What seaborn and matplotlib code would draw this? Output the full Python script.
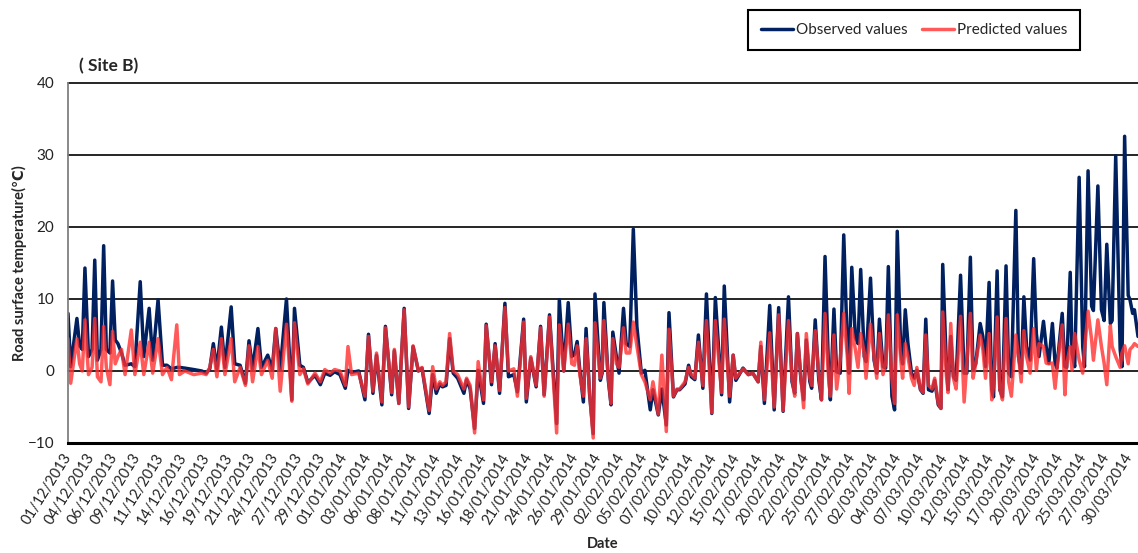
import numpy as np
import pandas as pd
import matplotlib
matplotlib.use("Agg")
import matplotlib.pyplot as plt
import seaborn as sns

# Time since 01/12/2013 00:00, in days
t_days = [
    0.0, 0.3, 1.0, 1.3, 1.6, 1.9, 2.3, 2.7, 3.0, 3.3, 3.7, 4.0, 4.3, 4.7, 5.0, 5.3,
    5.6, 6.0, 6.4, 7.1, 7.5, 8.1, 8.5, 9.1, 9.5, 10.1, 10.6, 11.1, 11.6, 12.2, 12.5, 13.1,
    14.1, 15.0, 15.5, 15.9, 16.3, 16.7, 17.2, 17.6, 18.3, 18.7, 19.3, 19.9, 20.3, 20.7,
    21.3, 21.7, 22.4, 22.9, 23.3, 23.8, 24.5, 25.1, 25.4, 26.0, 26.4, 26.9,
    27.7, 28.3, 28.8, 29.4, 29.9, 30.5, 31.1, 31.4, 31.8, 32.6, 33.3, 33.7, 34.2, 34.6,
    35.2, 35.6, 36.3, 36.6, 37.1, 37.7, 38.2, 38.7, 39.3, 39.7,
    40.5, 40.9, 41.3, 41.7, 42.0, 42.4, 42.8, 43.2, 43.7, 44.4, 44.7, 45.1, 45.6, 46.0,
    46.6, 46.9, 47.5, 47.9, 48.4, 49.0, 49.4, 50.0, 50.4, 51.1, 51.4, 51.9, 52.5, 53.0, 53.4,
    54.0, 54.8, 55.1, 55.6, 56.1, 56.5, 56.8, 57.1, 57.4, 57.8, 58.1, 58.5, 58.9, 59.1,
    59.7, 59.9, 60.1, 60.6, 60.9, 61.1, 61.5, 61.8, 62.3, 62.6, 63.0, 63.4, 63.8, 64.3,
    64.7, 65.3, 65.6, 66.2, 66.6, 67.1,
    67.4, 67.9, 68.3, 68.6, 69.2, 69.6, 69.9, 70.3, 70.7, 71.2, 71.6, 72.2, 72.6, 73.3,
    73.6, 74.2, 74.6, 74.9, 75.7, 76.3, 76.8, 77.4, 77.7, 78.1, 78.7, 79.2, 79.7, 80.2, 80.8,
    81.2, 81.5, 81.8, 82.2, 82.5, 82.8, 83.2, 83.4, 83.8, 84.2, 84.5, 84.9, 85.3, 85.5,
    85.9, 86.2, 86.6, 87.0, 87.4, 87.6, 87.9, 88.3, 88.6, 88.9, 89.3, 89.5, 90.0, 90.4,
    90.7, 91.0, 91.4, 91.7, 92.0, 92.4, 92.7, 93.0, 93.4, 93.6, 93.9,
    94.2, 94.6, 94.9, 95.2, 95.6, 95.9, 96.2, 96.5, 96.9, 97.2, 97.6, 97.9, 98.1, 98.5,
    98.7, 99.0, 99.3, 99.6, 100.1, 100.5, 100.8, 101.2, 101.5, 101.8, 102.3, 102.6, 102.9,
    103.3, 103.6, 103.8, 104.2, 104.5, 104.8, 105.2, 105.5, 105.8, 106.3, 106.6, 106.9,
    107.2, 107.5, 107.9,
    108.3, 108.6, 108.9, 109.4, 109.7, 110.0, 110.4, 110.7, 110.9, 111.5, 111.8, 112.0,
    112.4, 112.6, 112.9, 113.4, 113.8, 114.0, 114.4, 114.8, 115.0, 115.5, 115.9, 116.2,
    116.5, 116.9, 117.1, 117.5, 118.0, 118.2, 118.5, 118.9, 119.1, 119.4, 119.6, 120.0,
]

# Measured road surface temperature (deg C)
observed = [
    8.0, 0.6, 7.3, 3.5, 3.0, 14.3, 2.0, 3.0, 15.4, 1.5, 3.0, 17.4, 3.0, 2.5, 12.5, 4.3,
    3.8, 2.5, 0.8, 1.0, 0.6, 12.4, 2.0, 8.7, 1.5, 9.9, 0.8, 0.8, 0.3, 0.5, 0.5, 0.4,
    0.2, 0.0, -0.3, 0.3, 3.8, 0.3, 6.1, 0.5, 8.9, 1.0, 0.8, -1.7, 4.2, 0.3,
    5.9, 0.5, 2.2, 0.2, 5.9, 0.2, 10.0, -4.0, 8.7, 0.8, 0.5, -1.6,
    -0.6, -1.9, -0.3, -0.6, -0.1, -0.5, -2.4, 0.1, -0.2, 0.0, -4.0, 5.1, -3.1, 2.2,
    -4.7, 6.2, -3.3, 2.8, -4.5, 8.7, -5.2, 3.4, 0.0, 0.4,
    -5.9, -0.5, -3.1, -1.8, -2.2, -2.0, 4.5, -0.3, -1.0, -3.1, -1.2, -2.5, -8.0, 0.1,
    -4.5, 6.5, -1.9, 3.8, -3.1, 9.4, -0.8, -0.5, -2.9, 7.2, -4.3, 1.8, -2.2, 6.2, -3.3,
    7.8, -7.3, 9.9, 0.0, 9.5, 2.0, 2.3, 4.1, 0.1, -4.3, 5.9, -3.3, -8.7, 10.7,
    -1.3, -0.3, 9.5, -1.3, -4.7, 5.4, 2.0, -0.3, 8.7, 3.8, 3.4, 19.7, 6.2, -0.3,
    0.1, -5.4, -2.6, -6.1, -2.5, -7.5,
    8.1, -3.6, -2.6, -2.6, -1.8, 0.8, -0.8, -1.2, 5.0, -2.4, 10.7, -5.9, 10.2, -3.3,
    11.8, -4.3, 2.2, -1.3, 0.4, -0.5, -0.3, -1.5, 3.4, -4.5, 9.1, -5.4, 8.8, -5.6, 10.3,
    -1.5, -3.1, 5.2, -1.2, -4.0, 4.3, -1.5, -2.4, 7.1, -1.2, -4.0, 15.9, 0.1, -4.0,
    8.6, -0.1, -0.3, 18.9, 3.5, -0.3, 14.4, 4.7, 3.8, 14.1, 2.0, 1.3, 12.9, 1.5,
    -0.3, 7.2, 0.6, 0.4, 14.5, -3.5, -5.4, 19.4, 2.5, 1.0, 8.5,
    3.8, -0.3, -1.0, 0.1, -2.6, -3.1, 7.2, -2.6, -2.8, -1.3, -4.7, -5.2, 14.8, 1.1,
    -2.6, 4.8, -0.8, -1.3, 13.3, -0.3, -0.3, 15.8, 0.1, 1.0, 6.6, 4.8, 0.6,
    12.3, -2.6, -3.6, 13.9, -2.6, -3.6, 14.6, -0.3, -0.8, 22.3, 2.0, -0.3,
    10.3, 3.4, 1.5,
    15.6, 5.2, 2.0, 6.9, 3.4, 1.1, 6.6, 1.1, 0.4, 8.0, 0.6, 0.5,
    13.7, 2.5, 0.6, 26.9, 3.4, 0.6, 27.8, 9.0, 8.4, 25.7, 8.5, 7.0,
    17.6, 6.6, 7.0, 29.9, 3.0, 0.6, 32.6, 10.5, 9.9, 8.0, 8.5, 4.8,
]

# Model output for the same instants (deg C)
predicted = [
    4.5, -1.7, 4.5, 1.0, 0.0, 7.1, -0.5, 0.5, 7.3, -0.8, -1.5, 6.2, 0.5, -1.9, 5.5, 1.0,
    2.0, 3.0, -0.5, 5.7, -0.5, 4.0, -0.5, 4.0, -0.3, 4.5, -0.5, 0.5, -1.2, 6.4, -0.5, 0.0,
    -0.5, -0.3, -0.5, 0.5, 3.0, -0.8, 4.5, -0.5, 4.5, -1.5, 0.5, -2.0, 3.5, -1.5,
    3.4, -0.5, 1.5, -1.0, 5.9, -2.8, 6.5, -4.2, 6.7, -0.5, 0.3, -1.8,
    -0.3, -1.5, 0.2, -0.3, 0.2, 0.0, -2.0, 3.4, -0.5, -0.3, -3.5, 4.8, -2.8, 2.5,
    -4.3, 6.0, -3.0, 3.0, -4.5, 8.5, -5.0, 3.5, 0.0, 0.5,
    -5.5, 0.6, -2.5, -1.5, -2.0, -1.5, 5.2, 0.0, -0.5, -2.5, -1.0, -2.0, -8.6, 1.3,
    -4.0, 6.3, -1.5, 3.5, -2.7, 8.8, 0.0, 0.3, -3.5, 6.8, -3.8, 2.0, -2.0, 6.0, -3.5,
    7.5, -8.6, 6.4, 0.0, 6.5, 1.0, 0.8, 3.5, -0.5, -3.5, 4.5, -3.0, -9.3, 6.7,
    -1.0, 0.0, 7.0, -1.0, -4.5, 4.5, 1.0, 0.5, 6.0, 2.5, 2.5, 6.8, 3.5, -0.5,
    -1.5, -4.0, -1.5, -6.0, 2.2, -8.4,
    5.8, -3.5, -2.5, -2.5, -1.5, 0.5, -0.5, -1.0, 4.0, -2.0, 7.0, -5.8, 7.0, -3.0,
    7.2, -3.5, 2.2, -1.0, 0.3, -0.5, -0.3, -1.5, 4.0, -4.0, 5.3, -5.0, 7.8, -5.5, 7.0,
    -1.0, -3.5, 5.2, -1.0, -5.1, 5.2, -1.0, -2.0, 5.6, -0.5, -4.0, 8.0, -1.0, -3.5,
    5.0, -2.5, 1.5, 8.0, 2.0, -3.1, 5.9, 3.0, 0.5, 5.2, 2.5, -1.0, 6.5, 2.0,
    -1.0, 5.2, -0.5, 1.0, 7.8, -1.0, -4.5, 7.8, 1.5, -1.0, 3.8,
    2.0, -1.0, -2.0, 0.5, -2.5, -3.0, 5.0, -2.0, -2.5, -1.0, -4.5, -5.2, 8.2, -0.5,
    -3.0, 6.6, -1.0, -2.5, 7.6, -4.3, 1.0, 8.0, -1.0, 1.0, 5.0, 3.0, -1.0,
    5.2, -4.0, -2.0, 7.5, -2.5, -4.0, 7.3, -1.5, -3.5, 5.0, 2.0, -1.5,
    5.6, 2.0, -0.3,
    5.9, 0.1, 3.8, 3.4, 1.1, 1.0, 1.1, -2.4, 0.1, 6.4, -3.3, 1.0,
    3.4, 0.1, 5.2, 1.5, -0.3, 2.9, 8.3, 4.3, 1.5, 7.1, 3.4, 1.1,
    -1.9, 6.3, 3.4, 2.0, 0.5, 2.5, 3.5, 1.0, 3.0, 3.4, 3.8, 3.4,
]

tick_labels = [
    "01/12/2013", "04/12/2013", "06/12/2013", "09/12/2013", "11/12/2013", "14/12/2013",
    "16/12/2013", "19/12/2013", "21/12/2013", "24/12/2013", "27/12/2013", "29/12/2013",
    "01/01/2014", "03/01/2014", "06/01/2014", "08/01/2014", "11/01/2014", "13/01/2014",
    "16/01/2014", "18/01/2014", "21/01/2014", "24/01/2014", "26/01/2014", "29/01/2014",
    "02/02/2014", "05/02/2014", "07/02/2014", "10/02/2014", "12/02/2014", "15/02/2014",
    "17/02/2014", "20/02/2014", "22/02/2014", "25/02/2014", "27/02/2014", "02/03/2014",
    "04/03/2014", "07/03/2014", "10/03/2014", "12/03/2014", "15/03/2014", "17/03/2014",
    "20/03/2014", "22/03/2014", "25/03/2014", "27/03/2014", "30/03/2014",
]

assert len(t_days) == len(observed) == len(predicted)

df = pd.DataFrame({"t": t_days, "Observed values": observed,
                   "Predicted values": predicted})

sns.set_theme(style="white")
plt.rcParams["font.family"] = ["Lato", "DejaVu Sans"]

W, H = 1138, 553
fig = plt.figure(figsize=(W / 100, H / 100), dpi=100)
ax = fig.add_axes([68 / W, 1 - 443 / H, 1070 / W, 360 / H])

sns.lineplot(data=df, x="t", y="Observed values", ax=ax, color="#002060",
             linewidth=2.0, estimator=None, sort=False, label="Observed values")
sns.lineplot(data=df, x="t", y="Predicted values", ax=ax, color="#FF3030",
             alpha=0.8, linewidth=1.8, estimator=None, sort=False,
             label="Predicted values")

# y axis
ax.set_ylim(-10, 40)
ax.set_yticks(np.arange(-10, 41, 10))
ax.yaxis.grid(True, color="black", linewidth=1.2)
for gl in ax.get_ygridlines():
    gl.set_clip_on(False)
ax.tick_params(axis="y", length=0, pad=10, labelsize=11, labelcolor="#222222")

# x axis: evenly spaced date labels between first and last label date
dates = pd.to_datetime(tick_labels, format="%d/%m/%Y")
span = (dates[-1] - dates[0]).days
ax.set_xlim(0, max(t_days))
ax.set_xticks(np.linspace(0, span, len(tick_labels)))
ax.set_xticklabels(tick_labels, rotation=58, ha="right", va="center",
                   rotation_mode="anchor", fontsize=10.5, color="#222222")
ax.tick_params(axis="x", length=0, pad=8)

for side in ("top", "right"):
    ax.spines[side].set_visible(False)
ax.spines["bottom"].set_color("black")
ax.spines["bottom"].set_linewidth(2.2)
ax.spines["left"].set_color("#808080")
ax.spines["left"].set_linewidth(1.3)

ax.set_ylabel("Road surface temperature(℃)", fontweight="bold", fontsize=10.5)
ax.yaxis.set_label_coords(-41 / 1070, 0.5)
ax.set_xlabel("Date", fontweight="bold", fontsize=10.5)
ax.xaxis.set_label_coords(0.5, -(537 - 443) / 360)

fig.text(79 / W, 1 - 66 / H, "( Site B)", fontweight="bold", fontsize=12.5,
         va="center", ha="left")

handles, labels = ax.get_legend_handles_labels()
ax.get_legend().remove()
for h in handles:
    h.set_linewidth(2.5)
leg = fig.legend(handles, labels, loc="center", bbox_to_anchor=(914 / W, 1 - 30 / H),
                 ncol=2, frameon=True, fancybox=False, edgecolor="black",
                 framealpha=1, fontsize=11, handlelength=2.1, handletextpad=0.2,
                 columnspacing=0.9, borderpad=0.85)
leg.get_frame().set_linewidth(1.5)

fig.savefig("out.png", dpi=100)
